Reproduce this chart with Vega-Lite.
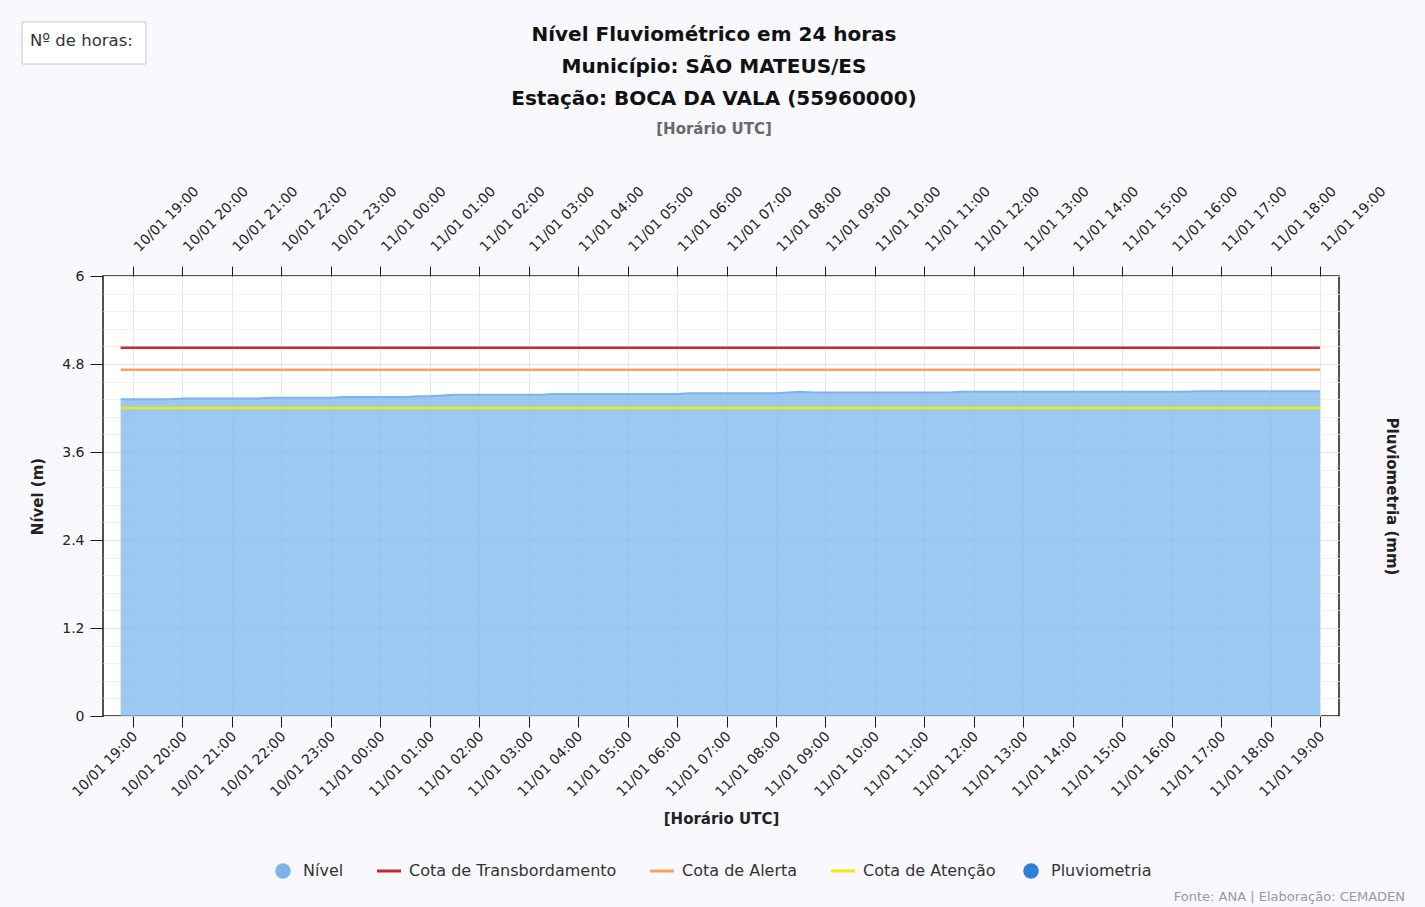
{
  "$schema": "https://vega.github.io/schema/vega-lite/v6.json",
  "width": 1236,
  "height": 440,
  "autosize": {"type": "none"},
  "padding": {"left": 103, "top": 276, "right": 86, "bottom": 191},
  "background": "#f8f8fd",
  "config": {
    "font": "DejaVu Sans",
    "view": {"fill": "#ffffff", "stroke": "#1a1a1a", "strokeWidth": 1.5},
    "axis": {
      "labelFont": "DejaVu Sans", "labelFontSize": 14, "labelColor": "#222",
      "titleFont": "DejaVu Sans", "titleFontSize": 15, "titleFontWeight": "bold", "titleColor": "#222",
      "tickColor": "#1a1a1a", "tickSize": 11, "domain": false
    }
  },
  "title": {
    "text": ["Nível Fluviométrico em 24 horas", "Município: SÃO MATEUS/ES", "Estação: BOCA DA VALA (55960000)"],
    "subtitle": "[Horário UTC]",
    "anchor": "middle",
    "font": "DejaVu Sans", "fontSize": 20, "fontWeight": "bold", "color": "#111", "lineHeight": 32,
    "subtitleFont": "DejaVu Sans", "subtitleFontSize": 15, "subtitleFontWeight": "bold", "subtitleColor": "#6a6a6a", "subtitlePadding": 13,
    "offset": -116, "dx": -7
  },
  "datasets": {
    "nivel": [
      {"t": "2025-01-10T18:45Z", "nivel": 4.32}, {"t": "2025-01-10T19:00Z", "nivel": 4.32}, {"t": "2025-01-10T19:15Z", "nivel": 4.32}, {"t": "2025-01-10T19:30Z", "nivel": 4.32}, {"t": "2025-01-10T19:45Z", "nivel": 4.32},
      {"t": "2025-01-10T20:00Z", "nivel": 4.33}, {"t": "2025-01-10T20:15Z", "nivel": 4.33}, {"t": "2025-01-10T20:30Z", "nivel": 4.33}, {"t": "2025-01-10T20:45Z", "nivel": 4.33}, {"t": "2025-01-10T21:00Z", "nivel": 4.33}, {"t": "2025-01-10T21:15Z", "nivel": 4.33}, {"t": "2025-01-10T21:30Z", "nivel": 4.33},
      {"t": "2025-01-10T21:45Z", "nivel": 4.34}, {"t": "2025-01-10T22:00Z", "nivel": 4.34}, {"t": "2025-01-10T22:15Z", "nivel": 4.34}, {"t": "2025-01-10T22:30Z", "nivel": 4.34}, {"t": "2025-01-10T22:45Z", "nivel": 4.34}, {"t": "2025-01-10T23:00Z", "nivel": 4.34},
      {"t": "2025-01-10T23:15Z", "nivel": 4.35}, {"t": "2025-01-10T23:30Z", "nivel": 4.35}, {"t": "2025-01-10T23:45Z", "nivel": 4.35},
      {"t": "2025-01-11T00:00Z", "nivel": 4.35}, {"t": "2025-01-11T00:15Z", "nivel": 4.35}, {"t": "2025-01-11T00:30Z", "nivel": 4.35}, {"t": "2025-01-11T00:45Z", "nivel": 4.36}, {"t": "2025-01-11T01:00Z", "nivel": 4.36}, {"t": "2025-01-11T01:15Z", "nivel": 4.37},
      {"t": "2025-01-11T01:30Z", "nivel": 4.38}, {"t": "2025-01-11T01:45Z", "nivel": 4.38}, {"t": "2025-01-11T02:00Z", "nivel": 4.38}, {"t": "2025-01-11T02:15Z", "nivel": 4.38}, {"t": "2025-01-11T02:30Z", "nivel": 4.38}, {"t": "2025-01-11T02:45Z", "nivel": 4.38}, {"t": "2025-01-11T03:00Z", "nivel": 4.38}, {"t": "2025-01-11T03:15Z", "nivel": 4.38},
      {"t": "2025-01-11T03:30Z", "nivel": 4.39}, {"t": "2025-01-11T03:45Z", "nivel": 4.39}, {"t": "2025-01-11T04:00Z", "nivel": 4.39}, {"t": "2025-01-11T04:15Z", "nivel": 4.39}, {"t": "2025-01-11T04:30Z", "nivel": 4.39}, {"t": "2025-01-11T04:45Z", "nivel": 4.39}, {"t": "2025-01-11T05:00Z", "nivel": 4.39}, {"t": "2025-01-11T05:15Z", "nivel": 4.39}, {"t": "2025-01-11T05:30Z", "nivel": 4.39}, {"t": "2025-01-11T05:45Z", "nivel": 4.39}, {"t": "2025-01-11T06:00Z", "nivel": 4.39},
      {"t": "2025-01-11T06:15Z", "nivel": 4.40}, {"t": "2025-01-11T06:30Z", "nivel": 4.40}, {"t": "2025-01-11T06:45Z", "nivel": 4.40}, {"t": "2025-01-11T07:00Z", "nivel": 4.40}, {"t": "2025-01-11T07:15Z", "nivel": 4.40}, {"t": "2025-01-11T07:30Z", "nivel": 4.40}, {"t": "2025-01-11T07:45Z", "nivel": 4.40}, {"t": "2025-01-11T08:00Z", "nivel": 4.40},
      {"t": "2025-01-11T08:15Z", "nivel": 4.41}, {"t": "2025-01-11T08:30Z", "nivel": 4.42}, {"t": "2025-01-11T08:45Z", "nivel": 4.41}, {"t": "2025-01-11T09:00Z", "nivel": 4.41}, {"t": "2025-01-11T09:15Z", "nivel": 4.41}, {"t": "2025-01-11T09:30Z", "nivel": 4.41}, {"t": "2025-01-11T09:45Z", "nivel": 4.41}, {"t": "2025-01-11T10:00Z", "nivel": 4.41}, {"t": "2025-01-11T10:15Z", "nivel": 4.41}, {"t": "2025-01-11T10:30Z", "nivel": 4.41}, {"t": "2025-01-11T10:45Z", "nivel": 4.41}, {"t": "2025-01-11T11:00Z", "nivel": 4.41}, {"t": "2025-01-11T11:15Z", "nivel": 4.41}, {"t": "2025-01-11T11:30Z", "nivel": 4.41},
      {"t": "2025-01-11T11:45Z", "nivel": 4.42}, {"t": "2025-01-11T12:00Z", "nivel": 4.42}, {"t": "2025-01-11T12:15Z", "nivel": 4.42}, {"t": "2025-01-11T12:30Z", "nivel": 4.42}, {"t": "2025-01-11T12:45Z", "nivel": 4.42}, {"t": "2025-01-11T13:00Z", "nivel": 4.42}, {"t": "2025-01-11T13:15Z", "nivel": 4.42}, {"t": "2025-01-11T13:30Z", "nivel": 4.42}, {"t": "2025-01-11T13:45Z", "nivel": 4.42}, {"t": "2025-01-11T14:00Z", "nivel": 4.42}, {"t": "2025-01-11T14:15Z", "nivel": 4.42}, {"t": "2025-01-11T14:30Z", "nivel": 4.42}, {"t": "2025-01-11T14:45Z", "nivel": 4.42}, {"t": "2025-01-11T15:00Z", "nivel": 4.42}, {"t": "2025-01-11T15:15Z", "nivel": 4.42}, {"t": "2025-01-11T15:30Z", "nivel": 4.42}, {"t": "2025-01-11T15:45Z", "nivel": 4.42}, {"t": "2025-01-11T16:00Z", "nivel": 4.42}, {"t": "2025-01-11T16:15Z", "nivel": 4.42},
      {"t": "2025-01-11T16:30Z", "nivel": 4.43}, {"t": "2025-01-11T16:45Z", "nivel": 4.43}, {"t": "2025-01-11T17:00Z", "nivel": 4.43}, {"t": "2025-01-11T17:15Z", "nivel": 4.43}, {"t": "2025-01-11T17:30Z", "nivel": 4.43}, {"t": "2025-01-11T17:45Z", "nivel": 4.43}, {"t": "2025-01-11T18:00Z", "nivel": 4.43}, {"t": "2025-01-11T18:15Z", "nivel": 4.43}, {"t": "2025-01-11T18:30Z", "nivel": 4.43}, {"t": "2025-01-11T18:45Z", "nivel": 4.43}, {"t": "2025-01-11T19:00Z", "nivel": 4.43}
    ],
    "cotas": [
      {"serie": "Cota de Transbordamento", "valor": 5.02, "inicio": "2025-01-10T18:45Z", "fim": "2025-01-11T19:00Z"},
      {"serie": "Cota de Alerta", "valor": 4.72, "inicio": "2025-01-10T18:45Z", "fim": "2025-01-11T19:00Z"},
      {"serie": "Cota de Atenção", "valor": 4.20, "inicio": "2025-01-10T18:45Z", "fim": "2025-01-11T19:00Z"}
    ]
  },
  "resolve": {"axis": {"x": "independent", "y": "independent"}},
  "layer": [
    {
      "data": {"name": "nivel"},
      "mark": {"type": "area", "fillOpacity": 0.75, "line": {"strokeWidth": 2}},
      "encoding": {
        "x": {
          "field": "t", "type": "temporal",
          "scale": {"type": "utc", "domain": [1736533416000, 1736623380000], "nice": false},
          "axis": {"orient": "bottom", "title": "[Horário UTC]", "labelExpr": "utcFormat(datum.value, '%d/%m %H:%M')", "labelOverlap": false, "labelAngle": -45, "labelOffset": -3, "grid": true, "gridColor": "#e6e6e6", "titlePadding": 12}
        },
        "y": {
          "field": "nivel", "type": "quantitative",
          "scale": {"domain": [0, 6], "nice": false},
          "axis": {"orient": "left", "title": "Nível (m)", "values": [0, 1.2, 2.4, 3.6, 4.8, 6], "format": ".2~f", "grid": true, "gridColor": "#e3e3e3", "tickSize": 13, "labelPadding": 6, "titlePadding": 16}
        },
        "color": {
          "datum": "Nível", "type": "nominal",
          "scale": {"domain": ["Nível", "Cota de Transbordamento", "Cota de Alerta", "Cota de Atenção", "Pluviometria"], "range": ["#7cb5ec", "#c9282d", "#f9a25e", "#f2e80c", "#2f7ed8"]},
          "legend": {
            "orient": "none", "legendX": 172, "legendY": 587, "direction": "horizontal", "title": null,
            "labelFont": "DejaVu Sans", "labelFontSize": 16, "labelColor": "#333", "labelLimit": 400, "columnPadding": 27,
            "symbolSize": 576, "symbolStrokeWidth": 3, "labelOffset": 12,
            "encode": {"symbols": {"update": {
              "shape": {"signal": "datum.value === 'Nível' || datum.value === 'Pluviometria' ? 'circle' : 'stroke'"},
              "size": {"signal": "datum.value === 'Nível' || datum.value === 'Pluviometria' ? 240 : 576"},
              "fill": {"scale": "color", "field": "value"},
              "stroke": {"scale": "color", "field": "value"},
              "strokeWidth": {"signal": "datum.value === 'Nível' || datum.value === 'Pluviometria' ? 0 : 3"},
              "opacity": {"value": 1}
            }}}
          }
        }
      }
    },
    {
      "data": {"name": "cotas"},
      "mark": {"type": "rule", "strokeWidth": 2.5},
      "encoding": {
        "x": {"field": "inicio", "type": "temporal", "scale": {"type": "utc", "domain": [1736533416000, 1736623380000], "nice": false}, "axis": null},
        "x2": {"field": "fim"},
        "y": {"field": "valor", "type": "quantitative", "scale": {"domain": [0, 6], "nice": false}, "axis": null},
        "color": {
          "field": "serie", "type": "nominal",
          "scale": {"domain": ["Nível", "Cota de Transbordamento", "Cota de Alerta", "Cota de Atenção", "Pluviometria"], "range": ["#7cb5ec", "#c9282d", "#f9a25e", "#f2e80c", "#2f7ed8"]},
          "legend": {
            "orient": "none", "legendX": 172, "legendY": 587, "direction": "horizontal", "title": null,
            "labelFont": "DejaVu Sans", "labelFontSize": 16, "labelColor": "#333", "labelLimit": 400, "columnPadding": 27,
            "symbolSize": 576, "symbolStrokeWidth": 3, "labelOffset": 12,
            "encode": {"symbols": {"update": {
              "shape": {"signal": "datum.value === 'Nível' || datum.value === 'Pluviometria' ? 'circle' : 'stroke'"},
              "size": {"signal": "datum.value === 'Nível' || datum.value === 'Pluviometria' ? 240 : 576"},
              "fill": {"scale": "color", "field": "value"},
              "stroke": {"scale": "color", "field": "value"},
              "strokeWidth": {"signal": "datum.value === 'Nível' || datum.value === 'Pluviometria' ? 0 : 3"},
              "opacity": {"value": 1}
            }}}
          }
        }
      }
    },
    {
      "data": {"name": "nivel"},
      "mark": {"type": "point", "opacity": 0},
      "encoding": {
        "x": {
          "field": "t", "type": "temporal",
          "scale": {"type": "utc", "domain": [1736533416000, 1736623380000], "nice": false},
          "axis": {"orient": "top", "title": null, "labelExpr": "utcFormat(datum.value, '%d/%m %H:%M')", "labelOverlap": false, "labelAngle": -45, "labelOffset": 8, "labelPadding": 12, "grid": false, "tickSize": 10}
        },
        "y": {
          "field": "nivel", "type": "quantitative",
          "scale": {"domain": [0, 6], "nice": false},
          "axis": {"orient": "right", "title": "Pluviometria (mm)", "labels": false, "ticks": false, "grid": true, "gridColor": "#f0f0f0",
            "values": [0.24, 0.48, 0.72, 0.96, 1.44, 1.68, 1.92, 2.16, 2.64, 2.88, 3.12, 3.36, 3.84, 4.08, 4.32, 4.56, 5.04, 5.28, 5.52, 5.76],
            "titlePadding": 44}
        }
      }
    },
    {
      "data": {"values": [{}]},
      "mark": {"type": "rect", "fill": "#ffffff", "stroke": "#c8c8c8", "strokeWidth": 1},
      "encoding": {
        "x": {"datum": 1736527520000, "type": "temporal", "scale": {"type": "utc", "domain": [1736533416000, 1736623380000], "nice": false}, "axis": null},
        "x2": {"datum": 1736536546000},
        "y": {"datum": 9.464, "type": "quantitative", "scale": {"domain": [0, 6], "nice": false}, "axis": null},
        "y2": {"datum": 8.891}
      }
    },
    {
      "data": {"values": [{}]},
      "mark": {"type": "text", "text": "Nº de horas:", "align": "left", "baseline": "middle", "fontSize": 16.5, "color": "#333", "font": "DejaVu Sans"},
      "encoding": {
        "x": {"datum": 1736528102000, "type": "temporal", "scale": {"type": "utc", "domain": [1736533416000, 1736623380000], "nice": false}, "axis": null},
        "y": {"datum": 9.205, "type": "quantitative", "scale": {"domain": [0, 6], "nice": false}, "axis": null}
      }
    },
    {
      "data": {"values": [{}]},
      "mark": {"type": "text", "text": "Fonte: ANA | Elaboração: CEMADEN", "align": "right", "baseline": "middle", "fontSize": 13, "color": "#9a9a9a", "font": "DejaVu Sans"},
      "encoding": {
        "x": {"datum": 1736628184000, "type": "temporal", "scale": {"type": "utc", "domain": [1736533416000, 1736623380000], "nice": false}, "axis": null},
        "y": {"datum": -2.468, "type": "quantitative", "scale": {"domain": [0, 6], "nice": false}, "axis": null}
      }
    }
  ]
}
